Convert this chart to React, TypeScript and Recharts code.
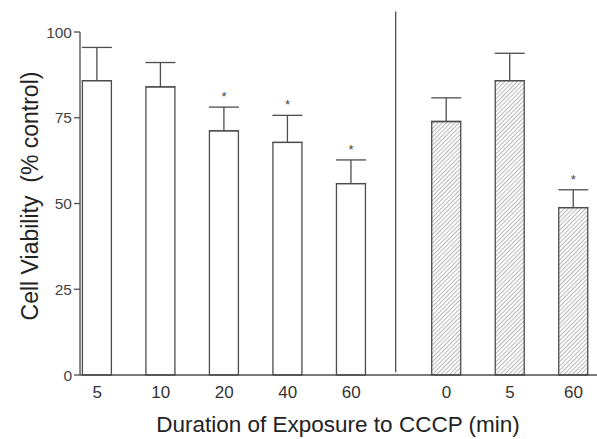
import React from "react";
import {
  BarChart,
  Bar,
  XAxis,
  YAxis,
  Cell,
  ErrorBar,
  LabelList,
  ReferenceLine,
  Label,
} from "recharts";

// untreated time course (open bars)
const openLabels = ["5", "10", "20", "40", "60"];
const openValues = [85.8, 84.0, 71.2, 67.8, 55.8];
const openErrors = [9.7, 7.1, 6.9, 7.9, 6.9];
const openSig = [false, false, true, true, true];

// second series (hatched bars)
const hatchLabels = ["0", "5", "60"];
const hatchValues = [73.9, 85.8, 48.8];
const hatchErrors = [6.9, 8.0, 5.2];
const hatchSig = [false, false, true];

const yTicks = [0, 25, 50, 75, 100];

const FONT = "'Liberation Sans', Arial, sans-serif";
const INK = "#4d4d4d";

const rows = [
  ...openLabels.map((label, i) => ({
    pos: i,
    label,
    value: openValues[i],
    err: [0, openErrors[i]],
    sig: openSig[i],
    hatched: false,
  })),
  ...hatchLabels.map((label, j) => ({
    pos: openLabels.length + 0.5 + j,
    label,
    value: hatchValues[j],
    err: [0, hatchErrors[j]],
    sig: hatchSig[j],
    hatched: true,
  })),
];

const divider = openLabels.length - 0.3;

function Star(props: any) {
  const { x, y, width, height, value, index } = props;
  const row = rows[index];
  if (!row || !row.sig) return null;
  const perUnit = height / value;
  const top = y - row.err[1] * perUnit;
  return (
    <text
      x={x + width / 2}
      y={top - 6}
      textAnchor="middle"
      fontSize={13}
      fontFamily={FONT}
      fill="#444"
    >
      *
    </text>
  );
}

export default function App() {
  return (
    <div style={{ position: "absolute", left: 0, top: 0 }}>
      <BarChart
        width={597}
        height={439}
        data={rows}
        margin={{ top: 32, right: 0, bottom: 0, left: 0 }}
      >
        <defs>
          <pattern
            id="hatch"
            patternUnits="userSpaceOnUse"
            width={3}
            height={3}
            patternTransform="rotate(45)"
          >
            <rect width={3} height={3} fill="#fff" />
            <line x1={0} y1={0} x2={0} y2={3} stroke="#707070" strokeWidth={1} />
          </pattern>
        </defs>
        <XAxis
          dataKey="pos"
          type="number"
          domain={[-0.27, 7.87]}
          ticks={rows.map((r) => r.pos)}
          interval={0}
          tickFormatter={(v: number) => rows.find((r) => r.pos === v)?.label ?? ""}
          tickLine={false}
          tickMargin={5}
          axisLine={{ stroke: INK, strokeWidth: 1.3 }}
          tick={{ fill: "#333", fontSize: 17, fontFamily: FONT }}
          height={64}
        >
          <Label
            content={() => (
              <text
                x={338}
                y={432}
                textAnchor="middle"
                fontSize={22.5}
                fontFamily={FONT}
                fill="#222"
              >
                Duration of Exposure to CCCP (min)
              </text>
            )}
          />
        </XAxis>
        <YAxis
          domain={[0, 100]}
          ticks={yTicks}
          width={80}
          tickSize={6}
          tickMargin={2}
          axisLine={{ stroke: INK, strokeWidth: 1.3 }}
          tickLine={{ stroke: INK, strokeWidth: 1.3 }}
          tick={{ fill: "#444", fontSize: 15.5, fontFamily: FONT }}
        >
          <Label
            content={() => (
              <text
                x={30}
                y={196}
                transform="rotate(-90 30 196)"
                textAnchor="middle"
                dominantBaseline="central"
                fontSize={23}
                fontFamily={FONT}
                fill="#222"
                style={{ whiteSpace: "pre" }}
              >
                Cell Viability  (% control)
              </text>
            )}
          />
        </YAxis>
        <ReferenceLine
          segment={[
            { x: divider, y: 0.8 },
            { x: divider, y: 106 },
          ]}
          ifOverflow="visible"
          stroke={INK}
          strokeWidth={1.3}
        />
        <Bar
          dataKey="value"
          barSize={29}
          stroke={INK}
          strokeWidth={1.3}
          isAnimationActive={false}
        >
          {rows.map((r, i) => (
            <Cell key={i} fill={r.hatched ? "url(#hatch)" : "#fff"} />
          ))}
          <ErrorBar
            dataKey="err"
            direction="y"
            width={15}
            stroke={INK}
            strokeWidth={1.3}
          />
          <LabelList dataKey="value" content={<Star />} />
        </Bar>
      </BarChart>
    </div>
  );
}
